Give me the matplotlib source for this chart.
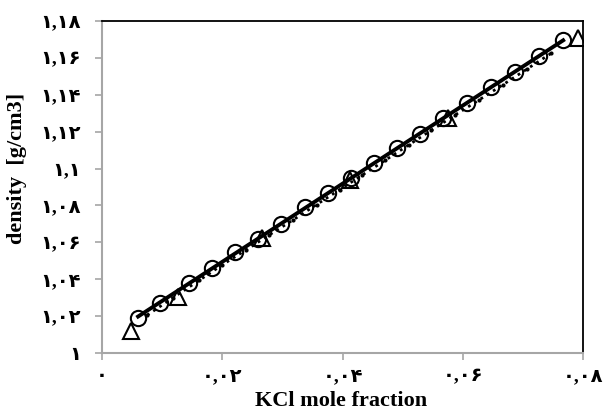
import matplotlib
matplotlib.use("Agg")
import matplotlib.pyplot as plt
import numpy as np

# measured data (circles), second data set (triangles), dotted series
x_circ = [0.0060, 0.0096, 0.0145, 0.0183, 0.0221, 0.0259, 0.0298, 0.0338, 0.0376, 0.0414,
          0.0452, 0.0491, 0.0529, 0.0567, 0.0607, 0.0647, 0.0687, 0.0727, 0.0767]
y_circ = [1.0190, 1.0272, 1.0378, 1.0460, 1.0545, 1.0620, 1.0700, 1.0790, 1.0870, 1.0950,
          1.1030, 1.1110, 1.1190, 1.1272, 1.1355, 1.1440, 1.1525, 1.1608, 1.1695]
x_tri = [0.0048, 0.0126, 0.0266, 0.0412, 0.0575, 0.0792]
y_tri = [1.0119, 1.0304, 1.0624, 1.0938, 1.1274, 1.1708]
x_dot = [0.0075, 0.0118, 0.0162, 0.0200, 0.0240, 0.0278, 0.0318, 0.0357, 0.0395, 0.0433,
         0.0471, 0.0510, 0.0548, 0.0587, 0.0627, 0.0667, 0.0707, 0.0747]
y_dot = [1.0205, 1.0300, 1.0395, 1.0478, 1.0560, 1.0640, 1.0722, 1.0805, 1.0885, 1.0965,
         1.1045, 1.1128, 1.1208, 1.1290, 1.1372, 1.1455, 1.1540, 1.1625]

y_ticks = [1.0, 1.02, 1.04, 1.06, 1.08, 1.1, 1.12, 1.14, 1.16, 1.18]
y_labels = ["۱", "۱,۰۲", "۱,۰۴", "۱,۰۶", "۱,۰۸", "۱,۱", "۱,۱۲", "۱,۱۴", "۱,۱۶", "۱,۱۸"]
x_ticks = [0.0, 0.02, 0.04, 0.06, 0.08]
x_labels = ["۰", "۰,۰۲", "۰,۰۴", "۰,۰۶", "۰,۰۸"]

fig = plt.figure(figsize=(6.08, 4.16), dpi=100)
ax = fig.add_axes([0.1678, 0.1514, 0.7911, 0.7981])

# linear trend through the circles
k, b = np.polyfit(x_circ, y_circ, 1)
xf = np.array([x_circ[0], x_circ[-1]])
ax.plot(xf, k * xf + b, color="black", lw=2.8, zorder=3)
ax.plot(x_dot, y_dot, ls=":", color="black", lw=2, marker=".", ms=4, zorder=3)
ax.plot(x_circ, y_circ, ls="none", marker="o", ms=11, mfc="none", mec="black", mew=1.5, zorder=4)
ax.plot(x_tri, y_tri, ls="none", marker="^", ms=12, mfc="none", mec="black", mew=1.5, zorder=4)

ax.set_xlim(0, 0.08)
ax.set_ylim(1.0, 1.18)
ax.set_xticks(x_ticks)
ax.set_yticks(y_ticks)
tick_font = dict(family=["Liberation Serif", "DejaVu Sans"], fontweight="bold", fontsize=14)
ax.set_xticklabels(x_labels, **tick_font)
ax.set_yticklabels(y_labels, **tick_font)
ax.tick_params(axis="both", direction="out", length=5, width=1.2, color="#a6a6a6")
ax.tick_params(axis="x", pad=6)
ax.tick_params(axis="y", pad=10)

for s in ["top", "right"]:
    ax.spines[s].set_color("black")
    ax.spines[s].set_linewidth(1.3)
for s in ["left", "bottom"]:
    ax.spines[s].set_color("#a6a6a6")
    ax.spines[s].set_linewidth(1.5)

ax.set_xlabel("KCl mole fraction", family="Liberation Serif", fontweight="bold", fontsize=16)
ax.set_ylabel("density  [g/cm3]", family="Liberation Serif", fontweight="bold", fontsize=16)
ax.xaxis.set_label_coords(0.497, -0.115)
ax.yaxis.set_label_coords(-0.155, 0.557)

plt.savefig("out.png", format="png")
